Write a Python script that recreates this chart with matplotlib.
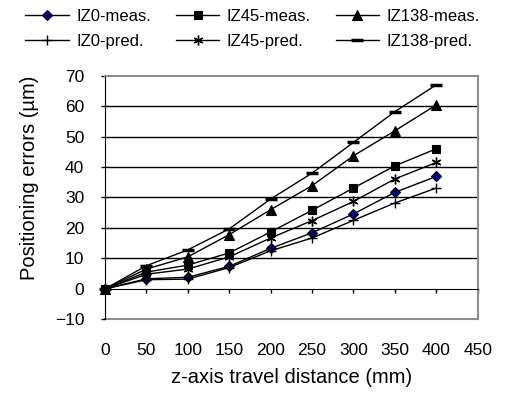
import matplotlib
matplotlib.use('Agg')
import matplotlib.pyplot as plt

plt.rcParams['font.family'] = ['Liberation Sans', 'DejaVu Sans']

distance = [0, 50, 100, 150, 200, 250, 300, 350, 400]

iz0_meas = [0, 3.3, 3.8, 7.4, 13.3, 18.4, 24.6, 31.7, 36.9]
iz45_meas = [0, 5.5, 7.8, 11.8, 18.7, 25.8, 33.1, 40.4, 46.0]
iz138_meas = [0, 6.5, 10.5, 17.8, 26.0, 33.9, 43.7, 51.9, 60.4]
iz0_pred = [0, 3.0, 3.2, 7.0, 12.5, 16.7, 22.5, 28.2, 33.1]
iz45_pred = [0, 4.8, 6.5, 10.5, 16.7, 22.4, 28.7, 36.1, 41.5]
iz138_pred = [0, 7.6, 12.8, 19.7, 29.5, 38.0, 48.1, 58.2, 67.0]

x_ticks = [0, 50, 100, 150, 200, 250, 300, 350, 400, 450]
y_ticks = [-10, 0, 10, 20, 30, 40, 50, 60, 70]

fig = plt.figure(figsize=(5.14, 3.94), dpi=100)
ax = fig.add_axes([0.2043, 0.1896, 0.7251, 0.6183])

# gridlines (Excel style, black)
for v in y_ticks[2:-1]:
    ax.axhline(v, color='black', lw=1, zorder=1)
# grey frame bottom edge of the plot area
ax.axhline(y_ticks[0], color='#8c8c8c', lw=1.5, zorder=1, clip_on=False)

# (label, data, marker, markersize, face colour, mew)
series = [
    ('IZ0-meas.', iz0_meas, 'D', 5.5, '#000080', 0.8),
    ('IZ0-pred.', iz0_pred, '+', 7, 'black', 1.0),
    ('IZ45-meas.', iz45_meas, 's', 6, 'black', 0.8),
    ('IZ45-pred.', iz45_pred, (6, 2, 0), 7, 'black', 1.0),
    ('IZ138-meas.', iz138_meas, '^', 7, 'black', 0.8),
    ('IZ138-pred.', iz138_pred, '_', 8, 'black', 2.5),
]
for label, vals, marker, ms, fc, mew in series:
    ax.plot(distance, vals, color='black', lw=1, marker=marker, markersize=ms,
            markerfacecolor=fc, markeredgecolor='black', markeredgewidth=mew,
            label=label, zorder=3, clip_on=False)

ax.set_xlim(0, 450)
ax.set_ylim(-10, 70)
ax.set_xticks(x_ticks)
ax.set_yticks(y_ticks)

# x axis sits at y=0, labels below the plot area
ax.spines['bottom'].set_position(('data', 0))
ax.spines['bottom'].set_color('black')
for s in ['top', 'right']:
    ax.spines[s].set_color('#8c8c8c')
    ax.spines[s].set_linewidth(1.5)
ax.spines['left'].set_zorder(2)

ax.tick_params(axis='x', direction='out', length=3, width=1, pad=36, labelsize=12.5)
ax.tick_params(axis='y', direction='out', length=3, width=1, pad=12, labelsize=12.5)

ax.set_xlabel('z-axis travel distance (mm)', fontsize=14.5)
ax.xaxis.set_label_coords(0.5, -0.2)
ax.set_ylabel('Positioning errors (\u00b5m)', fontsize=14.5)
ax.yaxis.set_label_coords(-0.176, 0.58)

fig.legend(loc='upper left', bbox_to_anchor=(0.02, 1.015), ncol=3, frameon=False,
           fontsize=12, handlelength=2.6, handletextpad=0.45, columnspacing=1.5,
           labelspacing=0.6)

plt.savefig('out.png', dpi=100)
